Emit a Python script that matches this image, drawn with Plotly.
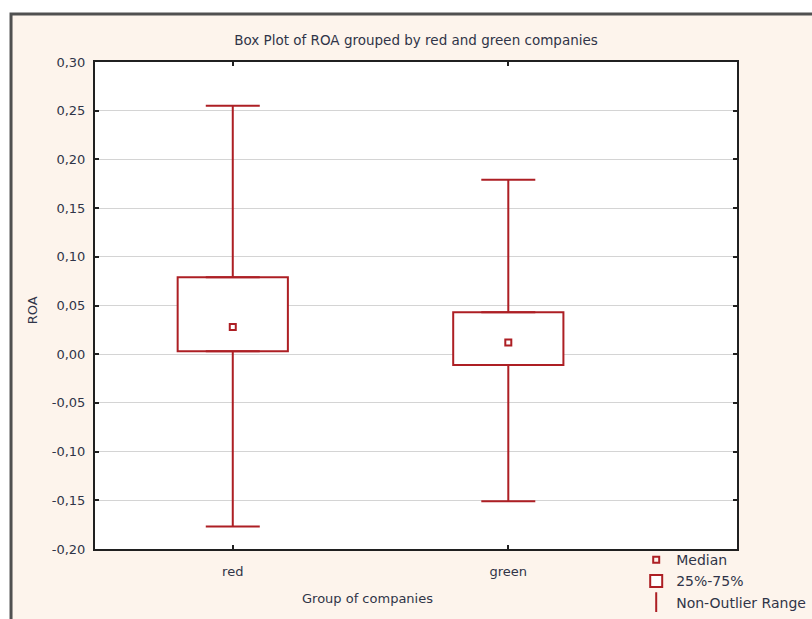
import plotly.graph_objects as go

categories = ["red", "green"]
q1 = [0.003, -0.011]
q3 = [0.079, 0.043]
medians = [0.028, 0.012]
lower_fence = [-0.177, -0.151]
upper_fence = [0.255, 0.179]
tick_vals = [0.30, 0.25, 0.20, 0.15, 0.10, 0.05, 0.00, -0.05, -0.10, -0.15, -0.20]
tick_text = ["0,30", "0,25", "0,20", "0,15", "0,10", "0,05", "0,00", "-0,05", "-0,10", "-0,15", "-0,20"]

RED = "#ad1f24"
TXT = "#303448"
FONT = "DejaVu Sans, Liberation Sans, Arial, sans-serif"

fig = go.Figure()

# median markers
fig.add_trace(go.Scatter(
    x=categories, y=medians, mode="markers", name="Median",
    marker=dict(symbol="square-open", size=6, color=RED, line=dict(width=2, color=RED)),
))
# boxes
fig.add_trace(go.Bar(
    x=categories, y=[b - a for a, b in zip(q1, q3)], base=q1, width=0.4,
    name="25%-75%",
    marker=dict(color="white", line=dict(color=RED, width=2)),
))
# upper whiskers
fig.add_trace(go.Scatter(
    x=categories, y=q3, mode="markers", showlegend=False,
    marker=dict(size=1, color="rgba(0,0,0,0)"),
    error_y=dict(type="data", symmetric=False,
                 array=[u - b for u, b in zip(upper_fence, q3)],
                 arrayminus=[0, 0], width=27, thickness=2, color=RED),
))
# lower whiskers
fig.add_trace(go.Scatter(
    x=categories, y=q1, mode="markers", showlegend=False,
    marker=dict(size=1, color="rgba(0,0,0,0)"),
    error_y=dict(type="data", symmetric=False,
                 array=[0, 0],
                 arrayminus=[a - l for a, l in zip(q1, lower_fence)],
                 width=27, thickness=2, color=RED),
))
# legend entry for whiskers
fig.add_trace(go.Scatter(
    x=[None], y=[None], mode="markers", name="Non-Outlier Range",
    marker=dict(symbol="line-ns-open", size=14, color=RED, line=dict(width=2, color=RED)),
))

fig.update_layout(
    width=812, height=619,
    margin=dict(l=95, r=75, t=62, b=70, autoexpand=False),
    paper_bgcolor="white",
    plot_bgcolor="white",
    font=dict(family=FONT, size=13, color=TXT),
    title=dict(text="Box Plot of ROA grouped by red and green companies",
               x=0.5, xref="paper", xanchor="center", y=1 - 40 / 619, yanchor="middle",
               font=dict(size=13.5, color=TXT)),
    showlegend=True,
    legend=dict(x=0.843, xanchor="left", y=0.01, yanchor="top",
                bgcolor="rgba(0,0,0,0)", traceorder="normal",
                font=dict(size=14, color=TXT), tracegroupgap=0, itemwidth=30),
    shapes=[
        dict(type="rect", xref="paper", yref="paper", x0=-0.1308, x1=1.3, y0=-0.3, y1=1.0986,
             fillcolor="#fdf4ec", line=dict(color="#505050", width=3), layer="below"),
        dict(type="rect", xref="paper", yref="paper", x0=0, x1=1, y0=0, y1=1,
             fillcolor="white", line=dict(width=0), layer="below"),
    ],
    annotations=[
        dict(text="Group of companies", xref="paper", yref="paper",
             x=0.424, y=-49 / 487, xanchor="center", yanchor="middle",
             showarrow=False, font=dict(size=13, color=TXT)),
        dict(text="ROA", xref="paper", yref="paper",
             x=-63 / 642, y=0.49, xanchor="center", yanchor="middle", textangle=-90,
             showarrow=False, font=dict(size=13, color=TXT)),
    ],
)

fig.update_xaxes(
    type="category", range=[-0.5, 1.83],
    showline=True, linecolor="#202020", linewidth=2, mirror="ticks",
    ticks="inside", ticklen=4, tickwidth=2, tickcolor="#202020",
    showgrid=False, tickfont=dict(size=13, color=TXT), ticklabelstandoff=9,
)
fig.update_yaxes(
    range=[-0.20, 0.30], tickvals=tick_vals, ticktext=tick_text,
    showline=True, linecolor="#202020", linewidth=2, mirror="ticks",
    ticks="inside", ticklen=4, tickwidth=2, tickcolor="#202020",
    showgrid=True, gridcolor="#d4d4d4", gridwidth=1, zeroline=False,
    tickfont=dict(size=13, color=TXT), ticklabelstandoff=5,
)

fig.write_html(
    "out.html",
    config={"displayModeBar": False},
    post_script="document.body.style.margin='0';document.body.style.overflow='hidden';",
)
